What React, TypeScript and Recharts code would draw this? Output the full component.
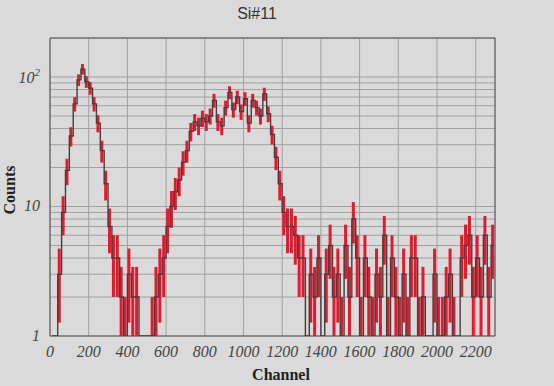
import { ComposedChart, Bar, Line, XAxis, YAxis, CartesianGrid, ReferenceArea } from 'recharts';

// counts per 20-channel bin, 0..2300
const binWidth = 20;
const counts = [
  0, 0, 3, 9, 19, 35, 62, 95, 115, 92,
  82, 62, 44, 27, 15, 7, 4, 4, 2, 1,
  3, 2, 2, 0, 0, 0, 1, 2, 3, 4,
  7, 10, 13, 16, 22, 27, 38, 45, 42, 48,
  45, 50, 66, 45, 42, 58, 76, 56, 70, 54,
  68, 44, 66, 58, 50, 74, 52, 36, 24, 15,
  9, 7, 7, 6, 4,
  4, 0, 3, 2, 4, 0, 3, 5, 2, 3,
  1, 5, 2, 8, 4, 1, 4, 2, 1, 3,
  2, 6, 1, 4, 2, 1, 3, 1, 4, 4,
  1, 2, 0, 0, 3, 1, 1, 2, 3, 1,
  0, 4, 5, 6, 2, 4, 2, 6, 2, 5,
];

const xTicks = [0, 200, 400, 600, 800, 1000, 1200, 1400, 1600, 1800, 2000, 2200];
const yTicks = [1, 2, 3, 4, 5, 6, 7, 8, 9, 10, 20, 30, 40, 50, 60, 70, 80, 90, 100, 200];

// bins with poisson error band (sqrt N)
const rows = counts.map((n, i) => ({
  ch: i * binWidth + binWidth / 2,
  shown: Math.max(n, 1),
  err: n > 0 ? [Math.max(1, n - Math.sqrt(n)), n + Math.sqrt(n)] : null,
}));

const serif = '"Liberation Serif", "DejaVu Serif", serif';

function YTick({ x, y, payload }: any) {
  const v = payload.value;
  const common = { x: x - 2, textAnchor: 'end' as const, fontFamily: serif, fontStyle: 'italic', fontSize: 16, fill: '#444' };
  if (v === 100) {
    return (
      <text {...common} y={y + 6}>
        10<tspan dy={-7} fontSize={11}>2</tspan>
      </text>
    );
  }
  if (v === 10) return <text {...common} y={y + 5}>10</text>;
  if (v === 1) return <text {...common} y={y + 5}>1</text>;
  return <g />;
}

export default function App() {
  return (
    <div style={{ position: 'fixed', left: 0, top: 0, width: 554, height: 386, background: '#dadada', overflow: 'hidden' }}>
      <div style={{ position: 'absolute', left: 0, width: 514, top: 5, textAlign: 'center', fontFamily: '"Liberation Sans", Arial, sans-serif', fontSize: 16, color: '#333' }}>
        Si#11
      </div>
      <div style={{ position: 'absolute', left: 0, width: 562, top: 366, textAlign: 'center', fontFamily: serif, fontWeight: 'bold', fontSize: 16, color: '#222' }}>
        Channel
      </div>
      <div style={{ position: 'absolute', left: 10, top: 190, width: 0, height: 0 }}>
        <div style={{ position: 'absolute', transform: 'translate(-50%, -50%) rotate(-90deg)', fontFamily: serif, fontWeight: 'bold', fontSize: 16, color: '#222', whiteSpace: 'nowrap' }}>
          Counts
        </div>
      </div>
      <ComposedChart width={554} height={386} data={rows} margin={{ top: 38, right: 59, bottom: 20, left: 0 }}>
        <CartesianGrid stroke="#a0a0a0" strokeWidth={1} />
        <XAxis
          dataKey="ch"
          type="number"
          domain={[0, 2300]}
          ticks={xTicks}
          allowDataOverflow
          axisLine={false}
          tickLine={false}
          tickMargin={4}
          height={30}
          tick={{ fontFamily: serif, fontStyle: 'italic', fontSize: 16, fill: '#444' }}
        />
        <YAxis
          scale="log"
          domain={[1, 200]}
          ticks={yTicks}
          allowDataOverflow
          axisLine={false}
          tickLine={false}
          width={50}
          tick={<YTick />}
          interval={0}
        />
        <Bar dataKey="err" fill="#e01b2e" barSize={3} isAnimationActive={false} />
        <Line
          dataKey="shown"
          type="step"
          stroke="#4a3c3c"
          strokeWidth={1.4}
          dot={false}
          isAnimationActive={false}
        />
        <ReferenceArea x1={0} x2={2300} y1={1} y2={200} fill="none" stroke="#555" strokeWidth={1} />
      </ComposedChart>
    </div>
  );
}
